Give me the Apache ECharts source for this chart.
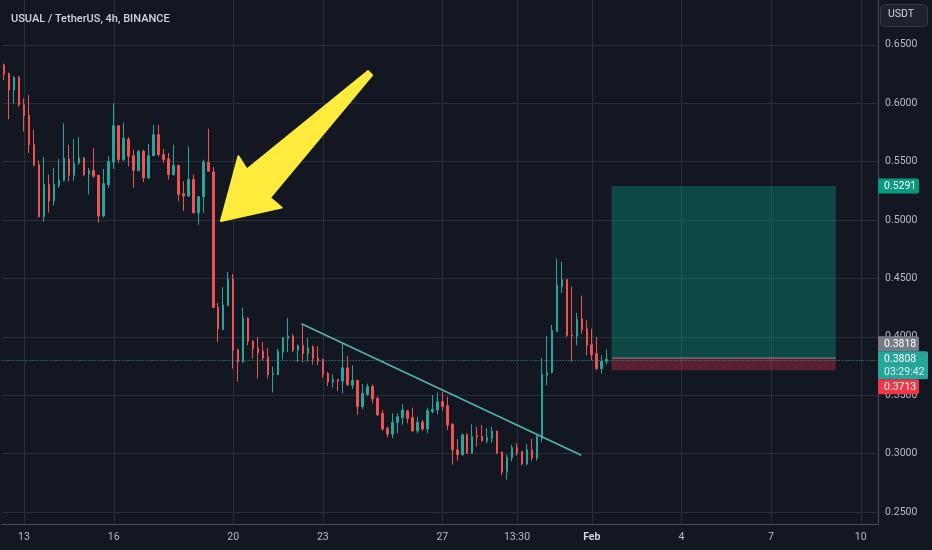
<!DOCTYPE html>
<html><head><meta charset="utf-8">
<script src="https://cdn.jsdelivr.net/npm/echarts@6/dist/echarts.min.js"></script>
<style>html,body{margin:0;padding:0;background:#131722}#c{width:932px;height:550px}</style>
</head><body><div id="c"></div>
<script>
// ---------- data ----------
const chartTitle = 'USUAL / TetherUS, 4h, BINANCE';
const quoteUnit = 'USDT';
const firstBarUTC = Date.UTC(2025, 0, 12, 8, 0);
const barHours = 4;
const slotCount = 176;
const tickTimes = ['01-13 00:00','01-16 00:00','01-20 00:00','01-23 00:00','01-27 00:00','01-29 12:00','02-01 00:00','02-04 00:00','02-07 00:00','02-10 00:00'];
const tickLabels = ['13','16','20','23','27','13:30','Feb','4','7','10'];
// [open, close, low, high]
const candles = [
[0.6326,0.6250,0.6198,0.6340],[0.6255,0.6113,0.5863,0.6260],[0.6113,0.6221,0.5994,0.6233],[0.6221,0.5986,0.5971,0.6233],
[0.5986,0.5895,0.5758,0.6042],[0.5898,0.5645,0.5574,0.6071],[0.5648,0.5469,0.5460,0.5773],[0.5474,0.5029,0.5020,0.5509],
[0.5029,0.5304,0.4986,0.5540],[0.5304,0.5162,0.5063,0.5389],[0.5162,0.5304,0.5125,0.5446],[0.5298,0.5341,0.5276,0.5523],
[0.5338,0.5531,0.5330,0.5829],[0.5523,0.5381,0.5330,0.5645],[0.5381,0.5483,0.5333,0.5693],[0.5489,0.5531,0.5474,0.5710],
[0.5531,0.5389,0.5375,0.5540],[0.5392,0.5423,0.5219,0.5446],[0.5423,0.5375,0.5361,0.5616],[0.5381,0.5034,0.4978,0.5389],
[0.5034,0.5313,0.5020,0.5437],[0.5304,0.5503,0.5276,0.5545],[0.5497,0.5807,0.5437,0.6000],[0.5807,0.5517,0.5489,0.5807],
[0.5517,0.5699,0.5503,0.5835],[0.5693,0.5545,0.5460,0.5710],[0.5551,0.5426,0.5276,0.5602],[0.5423,0.5588,0.5418,0.5602],
[0.5588,0.5361,0.5324,0.5602],[0.5361,0.5551,0.5352,0.5653],[0.5551,0.5730,0.5545,0.5815],[0.5730,0.5560,0.5545,0.5815],
[0.5560,0.5517,0.5489,0.5608],[0.5523,0.5389,0.5347,0.5574],[0.5389,0.5466,0.5381,0.5645],[0.5466,0.5219,0.5162,0.5474],
[0.5225,0.5205,0.5077,0.5333],[0.5205,0.5347,0.5199,0.5631],[0.5347,0.5063,0.5057,0.5389],[0.5063,0.5199,0.4958,0.5205],
[0.5199,0.5494,0.5063,0.5517],[0.5494,0.5418,0.5418,0.5781],[0.5412,0.4253,0.4245,0.5454],[0.4253,0.4069,0.3955,0.4290],
[0.4063,0.4273,0.4055,0.4424],[0.4267,0.4495,0.4262,0.4557],[0.4495,0.3884,0.3728,0.4537],[0.3890,0.3785,0.3615,0.3898],
[0.3785,0.4160,0.3779,0.4253],[0.4160,0.3961,0.3927,0.4168],[0.3964,0.3898,0.3813,0.3969],[0.3904,0.3864,0.3643,0.3998],
[0.3876,0.3819,0.3799,0.3955],[0.3827,0.3677,0.3643,0.3904],[0.3677,0.3686,0.3524,0.3742],[0.3677,0.3876,0.3671,0.3898],
[0.3870,0.3992,0.3807,0.3998],[0.3984,0.4006,0.3870,0.4160],[0.4006,0.3884,0.3870,0.4026],[0.3884,0.3927,0.3785,0.3933],
[0.3927,0.3856,0.3779,0.4111],[0.3856,0.3904,0.3785,0.3989],[0.3913,0.3813,0.3762,0.3927],[0.3819,0.3791,0.3757,0.3921],
[0.3808,0.3677,0.3649,0.3813],[0.3686,0.3614,0.3578,0.3700],[0.3614,0.3634,0.3566,0.3677],[0.3634,0.3620,0.3535,0.3634],
[0.3620,0.3734,0.3515,0.3941],[0.3734,0.3592,0.3578,0.3836],[0.3586,0.3626,0.3552,0.3757],[0.3626,0.3402,0.3331,0.3634],
[0.3402,0.3515,0.3382,0.3595],[0.3507,0.3575,0.3495,0.3600],[0.3575,0.3467,0.3430,0.3592],[0.3473,0.3331,0.3325,0.3487],
[0.3345,0.3211,0.3194,0.3373],[0.3217,0.3166,0.3138,0.3231],[0.3166,0.3268,0.3132,0.3345],[0.3268,0.3316,0.3174,0.3345],
[0.3308,0.3373,0.3245,0.3421],[0.3365,0.3302,0.3260,0.3373],[0.3308,0.3194,0.3189,0.3393],[0.3194,0.3268,0.3174,0.3316],
[0.3268,0.3211,0.3194,0.3288],[0.3211,0.3368,0.3174,0.3393],[0.3359,0.3379,0.3345,0.3501],[0.3373,0.3444,0.3336,0.3524],
[0.3444,0.3402,0.3365,0.3529],[0.3410,0.3245,0.3203,0.3487],[0.3251,0.3032,0.2905,0.3260],[0.3032,0.2990,0.2939,0.3126],
[0.2990,0.3160,0.2984,0.3174],[0.3160,0.3004,0.2996,0.3174],[0.3004,0.3146,0.2996,0.3251],[0.3155,0.3143,0.3061,0.3231],
[0.3146,0.3109,0.3104,0.3245],[0.3109,0.3138,0.3089,0.3217],[0.3132,0.3189,0.3089,0.3231],[0.3194,0.3004,0.2996,0.3194],
[0.3013,0.2842,0.2814,0.3018],[0.2848,0.2967,0.2777,0.2990],[0.2962,0.3052,0.2933,0.3075],[0.3052,0.3004,0.2984,0.3089],
[0.3018,0.2910,0.2899,0.3018],[0.2910,0.3032,0.2899,0.3081],[0.3032,0.2962,0.2939,0.3126],[0.2962,0.3146,0.2939,0.3166],
[0.3132,0.3677,0.3098,0.3819],[0.3671,0.3694,0.3586,0.4006],[0.3694,0.4054,0.3685,0.4103],[0.4046,0.4443,0.4040,0.4670],
[0.4432,0.4489,0.4375,0.4642],[0.4489,0.4012,0.3998,0.4494],[0.4017,0.4006,0.3785,0.4432],[0.4006,0.4148,0.3927,0.4205],
[0.4154,0.4063,0.4026,0.4352],[0.4069,0.3927,0.3841,0.4140],[0.3932,0.3847,0.3799,0.4069],[0.3856,0.3728,0.3714,0.3998],
[0.3728,0.3790,0.3685,0.3841],[0.3790,0.3808,0.3762,0.3892]
];
const currentPrice = 0.3808;
const countdown = '03:29:42';
// long position drawing spans these bars (centre to centre)
const positionFromTo = ['02-01 16:00', '02-09 04:00'];
const positionPrices = [0.5291, 0.3818, 0.3713]; // target, entry, stop
// trend line: [bar index, price]
const trendLine = [[59.7, 0.4112], [115.9, 0.2985]];
// arrow outline: [bar index, price]
const arrowOutline = [[73.1,0.6275],[73.9,0.6241],[53.4,0.5191],[55.74,0.5106],[43.54,0.4991],[47.06,0.5545],[48.74,0.5432]];
const yRange = [0.2397, 0.6884];

// ---------- build ----------
function pad(n){return (n<10?'0':'')+n;}
const categories = [];
for (let i = 0; i < slotCount; i++) {
  const d = new Date(firstBarUTC + i * barHours * 3600000);
  categories.push(pad(d.getUTCMonth()+1)+'-'+pad(d.getUTCDate())+' '+pad(d.getUTCHours())+':'+pad(d.getUTCMinutes()));
}
const tickIdx = tickTimes.map(t => categories.indexOf(t));
const labelByIdx = {};
tickIdx.forEach((ix, k) => labelByIdx[ix] = tickLabels[k]);

const UP = '#26a69a', DOWN = '#ef5350', GRID = '#2a2e39', AXIS = '#4a4e5a', TXT = '#b8bbc3';
const FONT = 'Roboto, "Liberation Sans", sans-serif';

const chart = echarts.init(document.getElementById('c'), null, {renderer: 'canvas'});

function gridRender(params, api) {
  const children = tickIdx.map(i => {
    const a = api.coord([i, yRange[1]]), b = api.coord([i, yRange[0]]);
    const x = Math.round(a[0]) + 0.5;
    return {type:'line', shape:{x1:x, y1:a[1], x2:x, y2:b[1]}, style:{stroke:GRID, lineWidth:1}};
  });
  return {type:'group', children};
}

function positionRender(params, api) {
  const i0 = categories.indexOf(positionFromTo[0]);
  const i1 = categories.indexOf(positionFromTo[1]);
  const t = api.coord([i0, positionPrices[0]]);
  const e = api.coord([i1, positionPrices[1]]);
  const s = api.coord([i1, positionPrices[2]]);
  return {type:'group', children:[
    {type:'rect', shape:{x:t[0], y:t[1], width:e[0]-t[0], height:e[1]-t[1]}, style:{fill:'rgba(8,153,129,0.38)'}},
    {type:'rect', shape:{x:t[0], y:e[1], width:e[0]-t[0], height:s[1]-e[1]}, style:{fill:'rgba(242,54,69,0.32)'}},
    {type:'line', shape:{x1:t[0], y1:e[1], x2:e[0], y2:e[1]}, style:{stroke:'#8a8d96', lineWidth:1}}
  ]};
}

function drawingRender(params, api) {
  const p0 = api.coord(trendLine[0]), p1 = api.coord(trendLine[1]);
  const pts = arrowOutline.map(p => api.coord(p));
  return {type:'group', children:[
    {type:'line', shape:{x1:p0[0], y1:p0[1], x2:p1[0], y2:p1[1]}, style:{stroke:'#4db6ac', lineWidth:1.6}},
    {type:'polygon', shape:{points:pts}, style:{fill:'#ffeb3b', stroke:'#ffeb3b', lineWidth:2, lineJoin:'round'}}
  ]};
}

function tagRender(params, api) {
  const axisX = Math.round(api.coord([slotCount - 0.5, 0.5])[0]);
  const cy = api.coord([0, currentPrice])[1];
  const curTop = cy - 8, curBot = cy + 20;
  const tags = [
    {p: positionPrices[0], fill:'#089981', w:41},
    {p: positionPrices[1], fill:'#787b86', w:41},
    {p: positionPrices[2], fill:'#f23645', w:41}
  ];
  const children = [];
  tags.forEach(t => {
    const y = api.coord([0, t.p])[1];
    let top = y - 7.5, h = 15;
    if (top < curBot && top + h > curTop) {
      if (y < cy) top = curTop - h; else top = curBot;
    }
    children.push({type:'rect', shape:{x:axisX, y:top, width:t.w, height:h, r:[0,2,2,0]}, style:{fill:t.fill}});
    children.push({type:'text', x:axisX + 6, y:top + h/2 + 0.5, style:{text:t.p.toFixed(4), fill:'#ffffff', font:'10.5px '+FONT, align:'left', verticalAlign:'middle'}});
  });
  children.push({type:'rect', shape:{x:axisX, y:curTop, width:50, height:28, r:[0,2,2,0]}, style:{fill:UP}});
  children.push({type:'text', x:axisX + 6, y:cy, style:{text:currentPrice.toFixed(4), fill:'#ffffff', font:'10.5px '+FONT, align:'left', verticalAlign:'middle'}});
  children.push({type:'text', x:axisX + 6, y:cy + 13, style:{text:countdown, fill:'rgba(255,255,255,0.8)', font:'10.5px '+FONT, align:'left', verticalAlign:'middle'}});
  return {type:'group', children};
}

const option = {
  backgroundColor: '#131722',
  animation: false,
  title: {text: chartTitle, left: 6, top: 9, textStyle: {color:'#d1d4dc', fontSize: 11, fontWeight: 500, fontFamily: FONT}},
  grid: {left: 1.6, right: 53.9, top: 0, bottom: 26, containLabel: false},
  xAxis: [
    {type:'category', data: categories, boundaryGap: true,
     axisLine:{show:true, onZero:false, lineStyle:{color:AXIS}}, axisTick:{show:false}, splitLine:{show:false},
     axisLabel:{interval: (i) => labelByIdx[i] !== undefined, color: TXT, fontSize: 10.5, fontFamily: FONT, margin: 8,
       formatter: (v, i) => labelByIdx[i] === 'Feb' ? '{b|Feb}' : (labelByIdx[i] || ''),
       rich: {b: {fontWeight: 'bold', color: '#d1d4dc', fontSize: 10.5, fontFamily: FONT}}}},
    {type:'value', min: -0.5, max: slotCount - 0.5, show: false}
  ],
  yAxis: {type:'value', position:'right', min: yRange[0], max: yRange[1], splitNumber: 9, minInterval: 0.05, maxInterval: 0.05,
    axisLine:{show:true, onZero:false, lineStyle:{color:AXIS}}, axisTick:{show:false},
    axisLabel:{color: TXT, fontSize: 10.5, fontFamily: FONT, margin: 7, showMinLabel:false, showMaxLabel:false, formatter: v => v.toFixed(4)},
    splitLine:{show:true, lineStyle:{color:GRID}, showMinLine:false, showMaxLine:false}},
  graphic: [
    {type:'rect', left: 880, top: 4, shape:{width:47, height:22, r:4}, style:{fill:'#1e222d', stroke:'#363a45', lineWidth:1}, z: 100},
    {type:'text', left: 888, top: 9, style:{text: quoteUnit, fill:'#d1d4dc', font:'10.5px ' + FONT}, z: 101}
  ],
  series: [
    {type:'custom', xAxisIndex:1, yAxisIndex:0, data:[[0, 0.5]], renderItem: gridRender, silent:true, z:1, clip:false},
    {type:'custom', xAxisIndex:1, yAxisIndex:0, data:[[0, 0.5]], renderItem: positionRender, silent:true, z:2, clip:false},
    {type:'candlestick', xAxisIndex:0, yAxisIndex:0, data: candles, barWidth: 2, z: 3,
     itemStyle:{color: UP, color0: DOWN, borderColor: UP, borderColor0: DOWN, borderWidth: 1},
     markLine:{symbol:'none', silent:true, label:{show:false}, lineStyle:{color: UP, type:[1,2], width:1}, data:[{yAxis: currentPrice}]}},
    {type:'custom', xAxisIndex:1, yAxisIndex:0, data:[[0, 0.5]], renderItem: drawingRender, silent:true, z:4, clip:false},
    {type:'custom', xAxisIndex:1, yAxisIndex:0, data:[[0, 0.5]], renderItem: tagRender, silent:true, z:10, clip:false}
  ]
};
chart.setOption(option);
</script></body></html>
